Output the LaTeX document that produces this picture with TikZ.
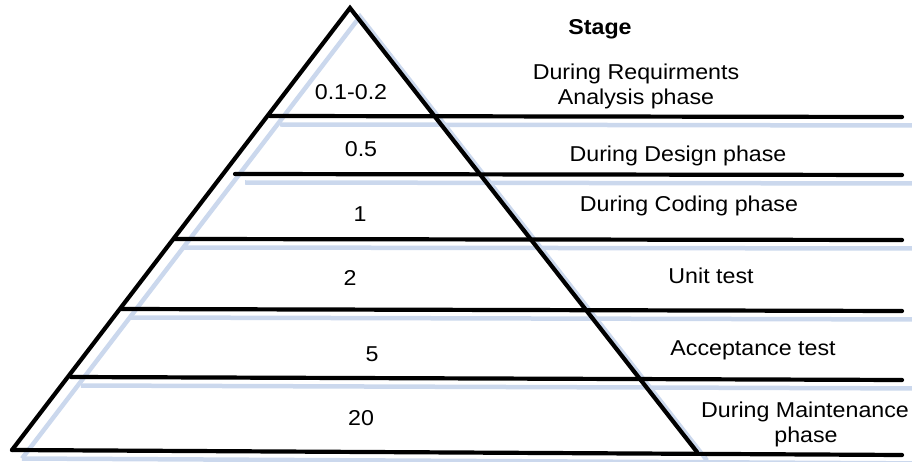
\documentclass[tikz,border=0pt]{standalone}
\usepackage{fontspec}
\setmainfont{Liberation Sans}
\definecolor{shadowblue}{RGB}{203,216,237}
\begin{document}
\begin{tikzpicture}[x=1pt,y=-1pt,
  edge/.style={line width=4.2pt,line cap=round,black},
  shade/.style={line width=4.5pt,shadowblue},
  lbl/.style={anchor=base,inner sep=0pt,font=\fontsize{21.5}{25}\selectfont,xscale=1.08}]
\useasboundingbox (0,0) rectangle (912,462);
% pyramid corners
\coordinate (apex) at (350,8);
\coordinate (bl) at (12,450);
\coordinate (br) at (697,452);
% band boundaries: left end and right end
\coordinate (a1) at (270,116); \coordinate (b1) at (902,117);
\coordinate (a2) at (235,174); \coordinate (b2) at (902,175);
\coordinate (a3) at (174,239); \coordinate (b3) at (902,240);
\coordinate (a4) at (121,309); \coordinate (b4) at (902,311);
\coordinate (a5) at (71,377);  \coordinate (b5) at (902,380);
\coordinate (a6) at (12,450);  \coordinate (b6) at (902,455);
% soft blue drop shadow, offset down and to the right
\tikzset{sh/.style={shift={(10,8.5)}}}
\draw[shade] ([sh]bl) -- ([sh]apex) -- ([sh]br);
\foreach \i in {1,...,6} \draw[shade] ([sh]a\i) -- ([sh,xshift=20]b\i);
% outline
\draw[edge] (bl) -- (apex) -- (br);
\foreach \i in {1,...,6} \draw[edge] (a\i) -- (b\i);
% cost factors
\node[lbl] (c1) at (351,100) {0.1-0.2};
\node[lbl] (c2) at (361,157) {0.5};
\node[lbl] (c3) at (360,222) {1};
\node[lbl] (c4) at (350,285) {2};
\node[lbl] (c5) at (372,361) {5};
\node[lbl] (c6) at (361,425) {20};
% stages
\node[lbl,font=\fontsize{21.5}{25}\selectfont\bfseries] (head) at (600,35) {Stage};
\node[lbl] (s1a) at (636,80) {During Requirments};
\node[lbl] (s1b) at (636,105) {Analysis phase};
\node[lbl] (s2) at (678,162) {During Design phase};
\node[lbl] (s3) at (689,212) {During Coding phase};
\node[lbl] (s4) at (711,283) {Unit test};
\node[lbl] (s5) at (753,355) {Acceptance test};
\node[lbl] (s6a) at (805,417) {During Maintenance};
\node[lbl] (s6b) at (806,442) {phase};
\end{tikzpicture}
\end{document}
